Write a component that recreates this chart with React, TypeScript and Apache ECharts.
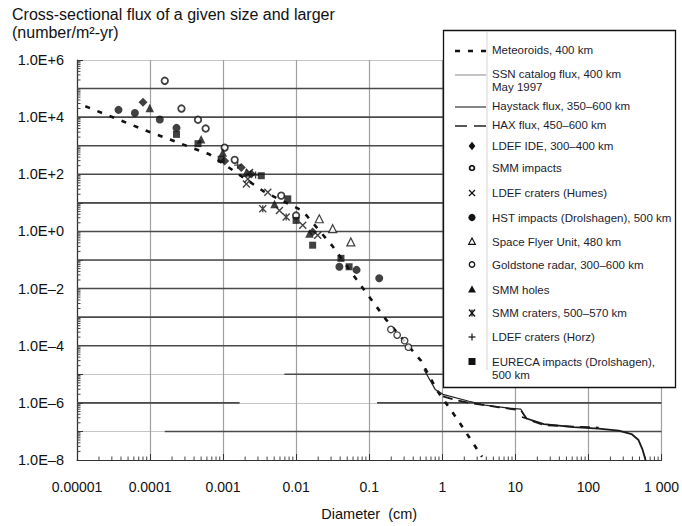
import React, { useEffect, useRef } from 'react';
import * as echarts from 'echarts';

// ---- Axis labels ----
const xTickLabels = ['0.00001', '0.0001', '0.001', '0.01', '0.1', '1', '10', '100', '1 000'];
const yTickLabels = ['1.0E–8', '1.0E–6', '1.0E–4', '1.0E–2', '1.0E+0', '1.0E+2', '1.0E+4', '1.0E+6'];
const X_MIN_EXP = -5;
const X_MAX_EXP = 3;
const Y_MIN_EXP = -8;
const Y_MAX_EXP = 6;

// ---- Flux models: [diameter (cm), flux (number/m²-yr)] ----
const meteoroids: number[][] = [
  [1.3e-5, 2.4e4], [9.3e-5, 3.2e3], [6.5e-4, 5.0e2], [3.7e-3, 24], [0.0122, 5.3],
  [0.031, 0.32], [0.073, 0.0154], [0.17, 8.2e-4], [0.51, 3.0e-5], [0.85, 2.7e-6],
  [1.6, 2.7e-7], [3.5, 1.3e-8],
];
const haystack: number[][] = [
  [0.56, 1.47e-5], [0.8, 2.96e-6], [1.02, 1.99e-6], [2.32, 1.14e-6], [3.83, 8.3e-7],
  [8.15, 6.5e-7], [11.9, 6.0e-7], [13.1, 3.7e-7],
];
const hax: number[][] = [
  [1.02, 1.7e-6], [1.59, 1.23e-6], [2.47, 9.7e-7], [5.96, 7.0e-7], [11.9, 5.5e-7],
  [14.4, 2.7e-7], [24.5, 1.67e-7], [63, 1.48e-7], [138, 1.36e-7],
];
const ssnCatalog: number[][] = [
  [12.3, 3.2e-7], [24.5, 1.8e-7], [63, 1.42e-7], [138, 1.26e-7], [259, 1.07e-7],
  [389, 8.1e-8], [485, 5.0e-8], [551, 2.3e-8], [605, 1.0e-8],
];

// ---- Measurements: [diameter (cm), flux (number/m²-yr)] ----
const ldefIde: number[][] = [[8.0e-5, 3.3e4], [1.05e-3, 294], [1.77e-3, 174], [2.43e-3, 102], [0.0168, 0.96]];
const smmImpacts: number[][] = [
  [1.59e-4, 1.87e5], [2.69e-4, 2.0e4], [4.53e-4, 8.1e3], [5.77e-4, 4.0e3],
  [1.05e-3, 860], [1.44e-3, 320], [6.24e-3, 17.9], [9.97e-3, 3.6],
];
const ldefHumes: number[][] = [
  [2.3e-3, 116], [2.18e-3, 68], [2.08e-3, 46], [4.09e-3, 23.5], [5.9e-3, 5.4],
  [0.0123, 1.63], [0.0197, 0.73],
];
const hstImpacts: number[][] = [
  [3.7e-5, 1.8e4], [6.2e-5, 1.4e4], [1.36e-4, 8.3e3], [2.3e-4, 4.2e3],
  [0.039, 0.058], [0.067, 0.045], [0.137, 0.023],
];
const spaceFlyer: number[][] = [[0.0207, 2.78], [0.0316, 1.25], [0.056, 0.43]];
const goldstone: number[][] = [[0.198, 3.7e-4], [0.241, 2.35e-4], [0.305, 1.5e-4], [0.344, 8.9e-5]];
const smmHoles: number[][] = [[9.9e-5, 2.1e4], [5.0e-4, 1.67e3], [9.9e-4, 575], [2.08e-3, 116], [5.05e-3, 9.2], [0.0152, 0.84]];
const smmCraters: number[][] = [[3.49e-3, 6.2], [7.3e-3, 3.2]];
const ldefHorz: number[][] = [[1.58e-3, 208], [2.78e-3, 94]];
const eureca: number[][] = [
  [2.3e-4, 2.5e3], [4.53e-4, 1.18e3], [9.4e-4, 337], [3.33e-3, 89], [7.67e-3, 13.8],
  [9.97e-3, 2.43], [0.0168, 0.33], [0.041, 0.114], [0.053, 0.058],
];

// Darker printed stretches of the horizontal grid: [flux exponent, from diameter, to diameter]
const darkGridRuns: number[][] = [
  [5, 1e-5, 1000], [4, 1e-5, 1000], [3, 1e-5, 1000], [2, 1e-5, 1000], [1, 1e-5, 1000],
  [0, 1e-5, 1000], [-1, 1e-5, 1000], [-2, 1e-5, 1000], [-3, 1e-5, 1000], [-4, 1e-5, 1000],
  [-5, 6.9e-3, 1000], [-6, 1e-5, 1.68e-3], [-6, 0.128, 1000], [-7, 1.59e-4, 1000],
];

const FONT = '"Liberation Sans", Arial, Helvetica, sans-serif';
const INK = '#111';

const toLog = (pts: number[][]) => pts.map(([d, f]) => [Math.log10(d), Math.log10(f)]);

// minor tick positions on a log scale (2..9 within each decade)
const minorTicks = (lo: number, hi: number) => {
  const out: number[] = [];
  for (let e = lo; e < hi; e++) for (let m = 2; m <= 9; m++) out.push(e + Math.log10(m));
  return out;
};

const CROSS = 'path://M0,0L10,10M10,0L0,10';
const ASTERISK = 'path://M0,0L10,10M10,0L0,10M5,0L5,10';
const PLUS = 'path://M5,0L5,10M0,5L10,5';

function legendMarker(kind: string, cx: number, cy: number): any[] {
  const z = 101;
  const line = (dash: number[] | null, w: number, color: string) => ({
    type: 'line', z, shape: { x1: 455, y1: cy, x2: 486, y2: cy },
    style: { stroke: color, lineWidth: w, lineDash: dash || undefined },
  });
  const s = 3.4;
  const seg = (x1: number, y1: number, x2: number, y2: number, w = 1.3) => ({
    type: 'line', z, shape: { x1, y1, x2, y2 }, style: { stroke: INK, lineWidth: w },
  });
  switch (kind) {
    case 'meteoroid': return [line([5, 8], 2.6, INK)];
    case 'ssn': return [line(null, 1, '#888')];
    case 'haystack': return [line(null, 1.2, '#333')];
    case 'hax': return [line([12, 7], 1.6, '#222')];
    case 'diamond': return [{ type: 'polygon', z, shape: { points: [[cx, cy - s - 0.8], [cx + s, cy], [cx, cy + s + 0.8], [cx - s, cy]] }, style: { fill: INK } }];
    case 'ringThick': return [{ type: 'circle', z, shape: { cx, cy, r: 2.4 }, style: { fill: '#fff', stroke: INK, lineWidth: 1.8 } }];
    case 'cross': return [seg(cx - 3, cy - 3, cx + 3, cy + 3), seg(cx + 3, cy - 3, cx - 3, cy + 3)];
    case 'dot': return [{ type: 'circle', z, shape: { cx, cy, r: 3.6 }, style: { fill: INK } }];
    case 'triOpen': return [{ type: 'polygon', z, shape: { points: [[cx, cy - 3.5], [cx + 3.3, cy + 2.8], [cx - 3.3, cy + 2.8]] }, style: { fill: '#fff', stroke: INK, lineWidth: 1.2 } }];
    case 'ring': return [{ type: 'circle', z, shape: { cx, cy, r: 2.7 }, style: { fill: '#fff', stroke: INK, lineWidth: 1.3 } }];
    case 'tri': return [{ type: 'polygon', z, shape: { points: [[cx, cy - 4], [cx + 4, cy + 3], [cx - 4, cy + 3]] }, style: { fill: INK } }];
    case 'asterisk': return [
      seg(cx - 3, cy - 3.5, cx + 3, cy + 3.5), seg(cx + 3, cy - 3.5, cx - 3, cy + 3.5), seg(cx, cy - 3.5, cx, cy + 3.5),
    ];
    case 'plus': return [seg(cx - 3.5, cy, cx + 3.5, cy, 1.2), seg(cx, cy - 3.5, cx, cy + 3.5, 1.2)];
    case 'square': return [{ type: 'rect', z, shape: { x: cx - 3.5, y: cy - 3.5, width: 7, height: 7 }, style: { fill: INK } }];
    default: return [];
  }
}

const legendEntries: { kind: string; lines: string[]; y: number }[] = [
  { kind: 'meteoroid', lines: ['Meteoroids, 400 km'], y: 50 },
  { kind: 'ssn', lines: ['SSN catalog flux, 400 km', 'May 1997'], y: 74 },
  { kind: 'haystack', lines: ['Haystack flux, 350–600 km'], y: 106 },
  { kind: 'hax', lines: ['HAX flux, 450–600 km'], y: 125 },
  { kind: 'diamond', lines: ['LDEF IDE, 300–400 km'], y: 146 },
  { kind: 'ringThick', lines: ['SMM impacts'], y: 168 },
  { kind: 'cross', lines: ['LDEF craters (Humes)'], y: 193 },
  { kind: 'dot', lines: ['HST impacts (Drolshagen), 500 km'], y: 217.5 },
  { kind: 'triOpen', lines: ['Space Flyer Unit, 480 km'], y: 241.5 },
  { kind: 'ring', lines: ['Goldstone radar, 300–600 km'], y: 264.5 },
  { kind: 'tri', lines: ['SMM holes'], y: 289.5 },
  { kind: 'asterisk', lines: ['SMM craters, 500–570 km'], y: 313 },
  { kind: 'plus', lines: ['LDEF craters (Horz)'], y: 337 },
  { kind: 'square', lines: ['EURECA impacts (Drolshagen),', '500 km'], y: 361.5 },
];

function buildLegend(): any[] {
  const els: any[] = [
    { type: 'rect', z: 100, shape: { x: 443.5, y: 30.5, width: 232, height: 357 }, style: { fill: '#fff', stroke: '#111', lineWidth: 1.3 } },
    { type: 'line', z: 100, shape: { x1: 487, y1: 32, x2: 487, y2: 370 }, style: { stroke: '#e2e2e2', lineWidth: 1.5 } },
  ];
  legendEntries.forEach((e) => {
    const isLine = ['meteoroid', 'ssn', 'haystack', 'hax'].includes(e.kind);
    els.push(...legendMarker(e.kind, 472, isLine ? e.y + 1 : e.y));
    e.lines.forEach((t, i) => {
      els.push({
        type: 'text', z: 101, x: 492, y: e.y + i * 13,
        style: { text: t, fill: '#1c1c30', font: `11.5px ${FONT}`, verticalAlign: 'middle', textVerticalAlign: 'middle' },
      });
    });
  });
  return els;
}

export default function App() {
  const ref = useRef<HTMLDivElement>(null);

  useEffect(() => {
    if (!ref.current) return;
    const chart = echarts.init(ref.current, undefined, { renderer: 'svg' });

    const scatter = (name: string, data: number[][], symbol: string, size: number, filled: boolean, borderWidth = 1.2) => ({
      name, type: 'scatter', data: toLog(data), symbol, symbolSize: size, z: 5,
      itemStyle: filled
        ? { color: INK }
        : { color: symbol.startsWith('path://') ? 'rgba(0,0,0,0)' : '#fff', borderColor: INK, borderWidth },
    });

    const line = (name: string, data: number[][], width: number, type: any, color: string) => ({
      name, type: 'line', data: toLog(data), showSymbol: false, symbol: 'none', z: 4,
      lineStyle: { width, type, color, cap: 'butt' },
    });

    const option: any = {
      animation: false,
      backgroundColor: '#fff',
      grid: { left: 77, right: 19, top: 60, bottom: 63, containLabel: false },
      xAxis: {
        type: 'value', min: X_MIN_EXP, max: X_MAX_EXP, interval: 1,
        name: 'Diameter  (cm)', nameLocation: 'middle', nameGap: 46,
        nameTextStyle: { fontFamily: FONT, fontSize: 14.5, color: INK },
        axisLine: { onZero: false, lineStyle: { color: '#333', width: 1.2 } },
        axisTick: { inside: true, length: 6, lineStyle: { color: '#333' } },
        axisLabel: {
          margin: 20, fontFamily: FONT, fontSize: 14, color: INK,
          formatter: (v: number) => xTickLabels[Math.round(v - X_MIN_EXP)] ?? '',
        },
        splitLine: { show: true, lineStyle: { color: '#a0a0a0', width: 1.2 } },
      },
      yAxis: {
        type: 'value', min: Y_MIN_EXP, max: Y_MAX_EXP, interval: 1,
        axisLine: { onZero: false, lineStyle: { color: '#333', width: 1.2 } },
        axisTick: { inside: true, length: 6, lineStyle: { color: '#333' } },
        axisLabel: {
          margin: 13, fontFamily: FONT, fontSize: 14.5, color: INK,
          formatter: (v: number) => {
            const k = Math.round(v - Y_MIN_EXP);
            return k % 2 === 0 ? yTickLabels[k / 2] ?? '' : '';
          },
        },
        splitLine: { show: true, lineStyle: { color: '#c6c6c6', width: 1 } },
      },
      series: [
        {
          type: 'custom', silent: true, z: 1,
          data: darkGridRuns.map(([e, a, b]) => [e, Math.log10(a), Math.log10(b)]),
          renderItem: (_p: any, api: any) => {
            const p0 = api.coord([api.value(1), api.value(0)]);
            const p1 = api.coord([api.value(2), api.value(0)]);
            return { type: 'line', shape: { x1: p0[0], y1: p0[1], x2: p1[0], y2: p1[1] }, style: { stroke: '#4a4a4a', lineWidth: 1.6 } };
          },
        },
        {
          type: 'custom', silent: true, z: 3, clip: false,
          data: minorTicks(X_MIN_EXP, X_MAX_EXP).map((v) => [v, Y_MIN_EXP]),
          renderItem: (_p: any, api: any) => {
            const p = api.coord([api.value(0), api.value(1)]);
            return { type: 'line', shape: { x1: p[0], y1: p[1], x2: p[0], y2: p[1] - 3.5 }, style: { stroke: '#444', lineWidth: 1 } };
          },
        },
        {
          type: 'custom', silent: true, z: 3, clip: false,
          data: minorTicks(Y_MIN_EXP, Y_MAX_EXP).map((v) => [X_MIN_EXP, v]),
          renderItem: (_p: any, api: any) => {
            const p = api.coord([api.value(0), api.value(1)]);
            return { type: 'line', shape: { x1: p[0], y1: p[1], x2: p[0] + 3.5, y2: p[1] }, style: { stroke: '#444', lineWidth: 1 } };
          },
        },
        line('Meteoroids, 400 km', meteoroids, 2.6, [5, 8], INK),
        line('SSN catalog flux, 400 km', ssnCatalog, 1.8, 'solid', '#1a1a1a'),
        line('Haystack flux, 350–600 km', haystack, 1.2, 'solid', '#222'),
        line('HAX flux, 450–600 km', hax, 1.8, [10, 6], '#1a1a1a'),
        scatter('LDEF IDE, 300–400 km', ldefIde, 'diamond', 9, true),
        scatter('SMM impacts', smmImpacts, 'circle', 6.5, false, 1.8),
        scatter('LDEF craters (Humes)', ldefHumes, CROSS, 7, false, 1.4),
        scatter('HST impacts (Drolshagen), 500 km', hstImpacts, 'circle', 8, true),
        scatter('Space Flyer Unit, 480 km', spaceFlyer, 'triangle', 8, false, 1.2),
        scatter('Goldstone radar, 300–600 km', goldstone, 'circle', 6.5, false, 1.3),
        scatter('SMM holes', smmHoles, 'triangle', 8.5, true),
        scatter('SMM craters, 500–570 km', smmCraters, ASTERISK, 7, false, 1.3),
        scatter('LDEF craters (Horz)', ldefHorz, PLUS, 7, false, 1.3),
        scatter('EURECA impacts (Drolshagen), 500 km', eureca, 'rect', 7, true),
      ],
      graphic: [
        {
          type: 'text', x: 12, y: 14, z: 100,
          style: { text: 'Cross-sectional flux of a given size and larger', fill: INK, font: `16px ${FONT}`, verticalAlign: 'middle', textVerticalAlign: 'middle' },
        },
        {
          type: 'text', x: 12, y: 32, z: 100,
          style: { text: '(number/m²-yr)', fill: INK, font: `16px ${FONT}`, verticalAlign: 'middle', textVerticalAlign: 'middle' },
        },
        ...buildLegend(),
      ],
    };

    chart.setOption(option);
    return () => chart.dispose();
  }, []);

  return (
    <div
      ref={ref}
      style={{ position: 'fixed', left: 0, top: 0, width: 682, height: 526, background: '#fff' }}
    />
  );
}
